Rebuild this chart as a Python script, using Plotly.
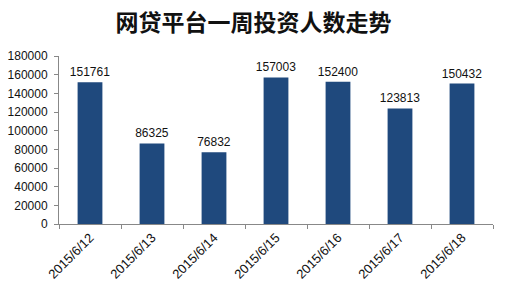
import plotly.graph_objects as go

categories = ["2015/6/12", "2015/6/13", "2015/6/14", "2015/6/15", "2015/6/16", "2015/6/17", "2015/6/18"]
values = [151761, 86325, 76832, 157003, 152400, 123813, 150432]
title_text = "<b>网贷平台一周投资人数走势</b>"

fig = go.Figure()
fig.add_trace(go.Bar(
    x=categories, y=values,
    marker=dict(color="#1F497D", line=dict(width=0)),
    width=0.4,
    text=[str(v) for v in values], textposition="outside",
    constraintext="none",
    textfont=dict(family="Liberation Sans, Arial", size=12, color="#111"),
    cliponaxis=False,
))

fig.update_layout(
    width=507, height=292,
    margin=dict(l=59, r=14, t=56, b=68, autoexpand=False),
    paper_bgcolor="white", plot_bgcolor="white",
    title=dict(text=title_text, x=0.5, xanchor="center", y=0.92, yanchor="middle",
               font=dict(family="Noto Sans CJK SC", size=23, color="#111")),
    showlegend=False,
    uniformtext=dict(minsize=12, mode="show"),
)
fig.update_yaxes(range=[0, 180000], dtick=20000, showgrid=False, showline=True,
                 linecolor="#888", linewidth=1, ticks="outside", ticklen=4, tickcolor="#888",
                 ticklabelstandoff=4, automargin=False,
                 tickfont=dict(family="Liberation Sans, Arial", size=12, color="#111"),
                 tickformat="d")
fig.update_xaxes(showline=True, linecolor="#888", linewidth=1, ticks="outside", ticklen=4,
                 tickcolor="#888", tickson="boundaries", tickangle=-45, automargin=False,
                 tickfont=dict(family="Liberation Sans, Arial", size=13, color="#111"))

fig.write_html("out.html")
